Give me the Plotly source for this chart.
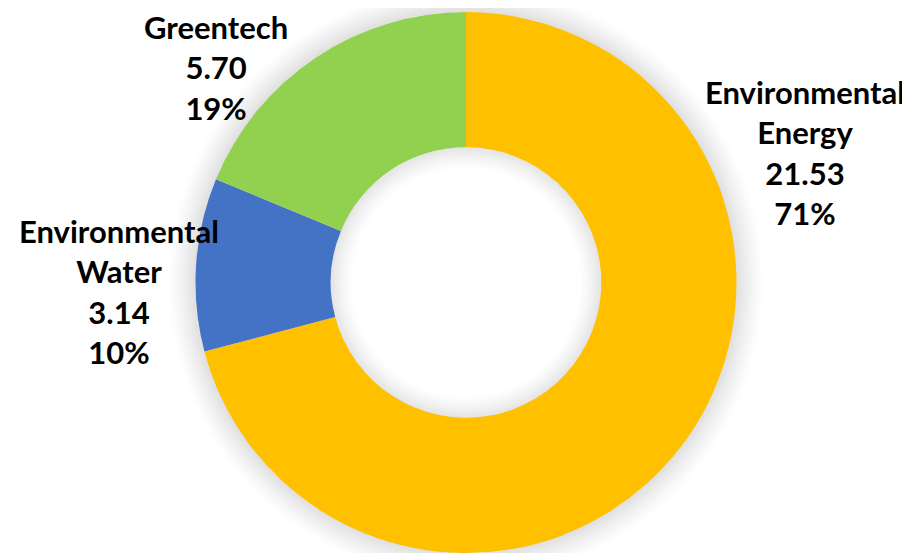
import plotly.graph_objects as go

labels = ["Environmental Energy", "Environmental Water", "Greentech"]
values = [21.53, 3.14, 5.70]
pct_labels = ["71%", "10%", "19%"]
value_labels = ["21.53", "3.14", "5.70"]
colors = ["#FFC000", "#4472C4", "#92D050"]

# page body has an 8px margin, so the figure is sized to fill the rest of the window
OFF = 8
W, H = 910 - OFF, 553 - OFF
cx_px = 466 - OFF
R = 270.5
hole = 0.5

fig = go.Figure(go.Pie(
    labels=labels, values=values, sort=False, direction="clockwise", rotation=0,
    hole=hole, marker=dict(colors=colors, line=dict(width=0)),
    textinfo="none", hoverinfo="label+value+percent",
    domain=dict(x=[(cx_px - R) / W, (cx_px + R) / W], y=[0, 2 * R / H]),
    showlegend=False,
))

cy_px = H - R

def circ(r, alpha, width=2):
    return dict(type="circle", xref="paper", yref="paper", layer="above",
                x0=(cx_px - r) / W, x1=(cx_px + r) / W,
                y0=1 - (cy_px + r) / H, y1=1 - (cy_px - r) / H,
                line=dict(color=f"rgba(0,0,0,{alpha:.4f})", width=width),
                fillcolor="rgba(0,0,0,0)")

shapes = []
N = 14
for k in range(N):
    a = 0.12 * (1 - k / N) ** 1.3
    shapes.append(circ(R + 1 + 2 * k, a))
Rin = R * hole
M = 11
for k in range(M):
    a = 0.10 * (1 - k / M) ** 1.3
    shapes.append(circ(Rin - 1 - 2 * k, a))

font = dict(family="Lato, Open Sans, sans-serif", size=31, color="#000000")
ann_pos = {
    "Environmental Energy": (805, 152),
    "Environmental Water": (119, 291),
    "Greentech": (216, 67),
}
annotations = []
for lab, v, p in zip(labels, value_labels, pct_labels):
    name = "<br>".join(lab.split(" "))
    txt = f"<b>{name}<br>{v}<br>{p}</b>"
    x, y = ann_pos[lab]
    annotations.append(dict(text=txt, x=(x - OFF) / W, y=1 - (y - OFF) / H,
                            xref="paper", yref="paper",
                            showarrow=False, font=font, align="center",
                            xanchor="center", yanchor="middle"))

fig.update_layout(width=W, height=H, margin=dict(l=0, r=0, t=0, b=0),
                  paper_bgcolor="white", plot_bgcolor="white",
                  shapes=shapes, annotations=annotations)
fig.write_html("out.html")
